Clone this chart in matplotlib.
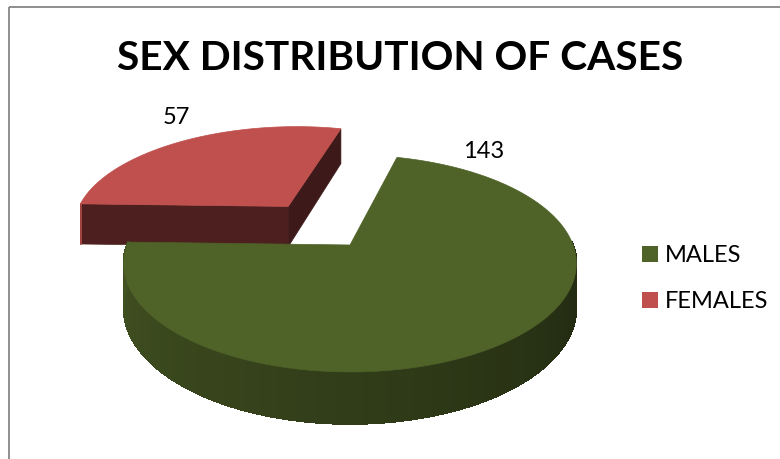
import numpy as np
import matplotlib
matplotlib.use('Agg')
import matplotlib.pyplot as plt
from matplotlib.patches import Polygon, Patch, Rectangle
from matplotlib.collections import PolyCollection

# ---------------- data ----------------
categories = ['MALES', 'FEMALES']
values = [143, 57]
value_labels = ['143', '57']
top_colors = ['#4F6228', '#C0504D']
title_text = 'SEX DISTRIBUTION OF CASES'

# ---------------- layout / style ----------------
W, H = 780, 459
FONT = 'Lato'
fig = plt.figure(figsize=(W / 100, H / 100), dpi=100)
ax = fig.add_axes([0, 0, 1, 1])
ax.set_xlim(0, W)
ax.set_ylim(H, 0)
ax.axis('off')

cx, cy = 350, 245          # pie centre on the page (px)
R, A = 223, 105.3          # horizontal radius, vertical radius (px)
B = 0.1705                 # perspective strength
D = 43                     # thickness (px)
explode = [0.0, 0.49]
start_angle = 14.2         # clockwise from 12 o'clock


def direction(theta_deg):
    t = np.radians(theta_deg)
    return np.sin(t), -np.cos(t)


def proj(u, v, z=0.0):
    s = 1.0 / (1.0 - B * v)
    return cx + R * u * s, cy + (A * v + D * z) * s


def shade(color, f):
    rgb = np.array(matplotlib.colors.to_rgb(color))
    return tuple(np.clip(rgb * f, 0, 1))


fractions = np.array(values, dtype=float) / np.sum(values)
spans = fractions * 360.0
bounds = start_angle + np.concatenate([[0], np.cumsum(spans)])

slices = []
for i in range(len(values)):
    a0, a1 = bounds[i], bounds[i + 1]
    mu, mv = direction((a0 + a1) / 2)
    off = (explode[i] * mu, explode[i] * mv)
    slices.append((i, a0, a1, off))

# paint far slices first
slices.sort(key=lambda s: s[3][1])

for i, a0, a1, (ou, ov) in slices:
    col = top_colors[i]
    ts = np.linspace(a0, a1, 300)
    du, dv = direction(ts)
    ru, rv = ou + du, ov + dv

    # radial cut faces
    for edge, normal in ((a0, a0 - 90), (a1, a1 + 90)):
        nu, nv = direction(normal)
        if nv > 0.02:
            eu, ev = direction(edge)
            pts = [proj(ou, ov, 0), proj(ou + eu, ov + ev, 0),
                   proj(ou + eu, ov + ev, 1), proj(ou, ov, 1)]
            f = 0.40 if nu <= 0 else 0.32
            c = shade(col, f)
            ax.add_patch(Polygon(pts, closed=True, facecolor=c, edgecolor=c,
                                 lw=0.5, zorder=2))

    # curved outer wall (front part only), shaded band by band
    quads, qcols = [], []
    for k in range(len(ts) - 1):
        tm = ((ts[k] + ts[k + 1]) / 2) % 360
        if 88 <= tm <= 272:
            quads.append([proj(ru[k], rv[k], 0), proj(ru[k + 1], rv[k + 1], 0),
                          proj(ru[k + 1], rv[k + 1], 1), proj(ru[k], rv[k], 1)])
            f = 0.40 + 0.44 * np.clip((tm - 90) / 180, 0, 1)
            qcols.append(shade(col, f))
    if quads:
        pc = PolyCollection(quads, facecolors=qcols, edgecolors=qcols,
                            linewidths=0.8, antialiaseds=False, zorder=2)
        ax.add_collection(pc)

    # top surface
    top = [proj(ou, ov, 0)] + [proj(u, v, 0) for u, v in zip(ru, rv)]
    ax.add_patch(Polygon(top, closed=True, facecolor=col, edgecolor=col,
                         lw=0.5, zorder=3))

# value labels
label_pos = [(484, 152), (176, 117)]
for txt, (x, y) in zip(value_labels, label_pos):
    ax.text(x, y, txt, ha='center', va='center', fontsize=17,
            family=FONT, color='black', zorder=5)

# title (fit to the reference width)
t = ax.text(400, 58, title_text, ha='center', va='center', fontsize=30,
            fontweight='bold', family=FONT, color='black', zorder=5)
fig.canvas.draw()
w = t.get_window_extent().width
t.set_fontsize(30 * 566 / w)

# chart border
ax.add_patch(Rectangle((9, 7), 900, 600, fill=False, edgecolor='#868686',
                       lw=1.3, zorder=6))

# legend
handles = [Patch(facecolor=c, edgecolor='none') for c in top_colors]
leg = ax.legend(handles, categories, loc='upper left',
                bbox_to_anchor=(633 / W, 1 - 236 / H), frameon=False,
                prop={'family': FONT, 'size': 17},
                handlelength=0.65, handleheight=0.65, handletextpad=0.3,
                labelspacing=1.05, borderaxespad=0)

fig.savefig('out.png', dpi=100)
